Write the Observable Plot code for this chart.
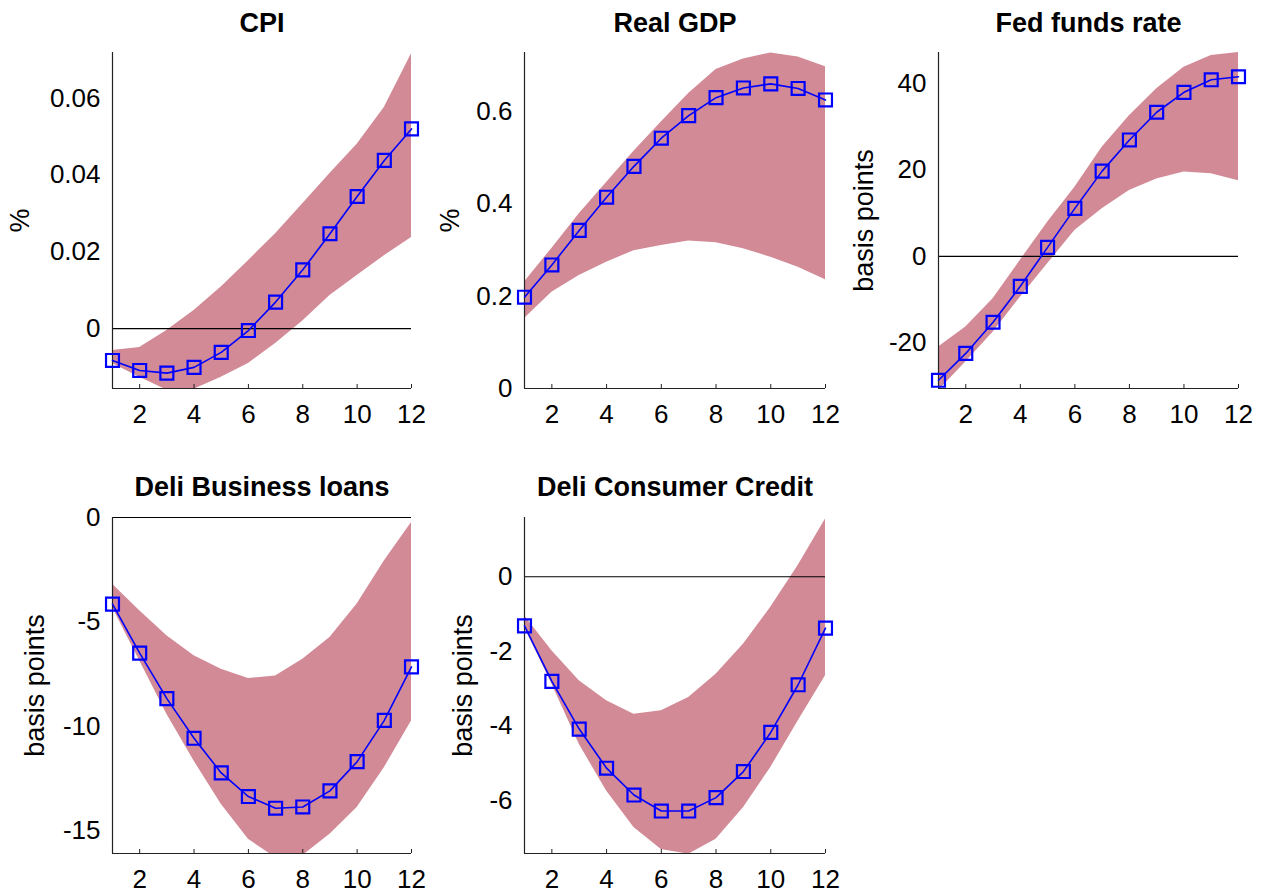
<!DOCTYPE html>
<html>
<head>
<meta charset="utf-8">
<script src="https://cdn.jsdelivr.net/npm/d3@7"></script>
<script src="https://cdn.jsdelivr.net/npm/@observablehq/plot@0.6"></script>
<style>
  html, body { margin: 0; padding: 0; background: #fff; }
  #root { position: relative; width: 1264px; height: 895px; overflow: hidden; }
  .panel { position: absolute; }
</style>
</head>
<body>
<div id="root"></div>
<script>
// ---- data ----
const horizons = [1, 2, 3, 4, 5, 6, 7, 8, 9, 10, 11, 12];
const xTicks = [2, 4, 6, 8, 10, 12];

const titles = ["CPI", "Real GDP", "Fed funds rate", "Deli Business loans", "Deli Consumer Credit"];
const yLabels = ["%", "%", "basis points", "basis points", "basis points"];

const cpiMean  = [-0.0083, -0.0109, -0.0116, -0.0101, -0.0062, -0.0005, 0.0069, 0.0153, 0.0247, 0.0344, 0.0438, 0.0520];
const cpiLower = [-0.0091, -0.0127, -0.0160, -0.0158, -0.0127, -0.0091, -0.0039, 0.0020, 0.0086, 0.0138, 0.0190, 0.0237];
const cpiUpper = [-0.0057, -0.0049, -0.0005, 0.0047, 0.0108, 0.0177, 0.0247, 0.0325, 0.0404, 0.0480, 0.0576, 0.0716];
const cpiTicks = [0, 0.02, 0.04, 0.06];
const cpiDomain = [-0.0156, 0.0719];

const gdpMean  = [0.198, 0.268, 0.343, 0.415, 0.482, 0.543, 0.592, 0.631, 0.652, 0.661, 0.651, 0.626];
const gdpLower = [0.152, 0.209, 0.245, 0.274, 0.299, 0.310, 0.320, 0.316, 0.303, 0.285, 0.263, 0.236];
const gdpUpper = [0.231, 0.304, 0.379, 0.447, 0.515, 0.578, 0.640, 0.692, 0.715, 0.728, 0.719, 0.698];
const gdpTicks = [0, 0.2, 0.4, 0.6];
const gdpDomain = [0, 0.729];

const fedMean  = [-28.6, -22.4, -15.2, -6.9, 2.1, 11.1, 19.7, 26.9, 33.3, 37.9, 40.8, 41.5];
const fedLower = [-31.0, -24.4, -17.5, -9.4, -1.7, 6.0, 11.0, 15.2, 17.9, 19.5, 19.1, 17.5];
const fedUpper = [-20.9, -16.3, -9.8, -0.9, 7.9, 16.0, 25.2, 32.5, 38.7, 43.7, 46.4, 47.1];
const fedTicks = [-20, 0, 20, 40];
const fedDomain = [-30.5, 47.1];

const busMean  = [-4.15, -6.50, -8.68, -10.58, -12.24, -13.37, -13.93, -13.87, -13.10, -11.70, -9.72, -7.16];
const busLower = [-4.31, -6.87, -9.43, -11.67, -13.74, -15.42, -16.3, -16.2, -15.18, -13.90, -11.99, -9.75];
const busUpper = [-3.20, -4.47, -5.67, -6.63, -7.27, -7.72, -7.59, -6.79, -5.75, -4.15, -2.08, -0.24];
const busTicks = [-15, -10, -5, 0];
const busDomain = [-16.1, 0];

const conMean  = [-1.32, -2.81, -4.09, -5.14, -5.86, -6.29, -6.29, -5.93, -5.23, -4.18, -2.90, -1.38];
const conLower = [-1.36, -2.88, -4.50, -5.75, -6.73, -7.32, -7.45, -7.05, -6.20, -5.12, -3.87, -2.66];
const conUpper = [-1.05, -1.99, -2.79, -3.33, -3.69, -3.60, -3.24, -2.62, -1.81, -0.82, 0.30, 1.55];
const conTicks = [-6, -4, -2, 0];
const conDomain = [-7.43, 1.59];

// ---- layout ----
const panels = [
  {mean: cpiMean, lower: cpiLower, upper: cpiUpper, ticks: cpiTicks, domain: cpiDomain,
   left: 0, top: 0, width: 430, height: 440, mL: 112, mR: 19, mT: 52, mB: 52, labelDx: -92, titleDy: -29},
  {mean: gdpMean, lower: gdpLower, upper: gdpUpper, ticks: gdpTicks, domain: gdpDomain,
   left: 420, top: 0, width: 430, height: 440, mL: 104, mR: 25, mT: 52, mB: 52, labelDx: -74, titleDy: -29},
  {mean: fedMean, lower: fedLower, upper: fedUpper, ticks: fedTicks, domain: fedDomain,
   left: 840, top: 0, width: 424, height: 440, mL: 98, mR: 26, mT: 52, mB: 52, labelDx: -74, titleDy: -29},
  {mean: busMean, lower: busLower, upper: busUpper, ticks: busTicks, domain: busDomain,
   left: 0, top: 450, width: 430, height: 445, mL: 112, mR: 19, mT: 67, mB: 42, labelDx: -77, titleDy: -30},
  {mean: conMean, lower: conLower, upper: conUpper, ticks: conTicks, domain: conDomain,
   left: 420, top: 450, width: 430, height: 445, mL: 104, mR: 25, mT: 67, mB: 42, labelDx: -61, titleDy: -30}
];

const root = document.getElementById("root");
const FONT = "'Liberation Sans', Arial, Helvetica, sans-serif";

panels.forEach((p, i) => {
  const rows = horizons.map((h, j) => ({h, mean: p.mean[j], lo: p.lower[j], hi: p.upper[j]}));
  const frameH = p.height - p.mT - p.mB;
  const chart = Plot.plot({
    width: p.width,
    height: p.height,
    marginLeft: p.mL,
    marginRight: p.mR,
    marginTop: p.mT,
    marginBottom: p.mB,
    style: {fontFamily: FONT, fontSize: "26px", color: "#000", background: "transparent", overflow: "visible"},
    x: {domain: [1, 12]},
    y: {domain: p.domain},
    marks: [
      Plot.areaY(rows, {x: "h", y1: "lo", y2: "hi", fill: "#D28A97", clip: true}),
      Plot.ruleY([0], {stroke: "#000", strokeWidth: 1.2}),
      Plot.ruleX([1], {stroke: "#222", strokeWidth: 1.2}),
      Plot.ruleY([p.domain[0]], {stroke: "#222", strokeWidth: 1.2}),
      Plot.tickX(xTicks, {x: d => d, stroke: "#222", insetTop: frameH - 4}),
      Plot.line(rows, {x: "h", y: "mean", stroke: "#0000FF", strokeWidth: 1.6}),
      Plot.dot(rows, {x: "h", y: "mean", symbol: "square", r: 7.3, stroke: "#0000FF", strokeWidth: 2.2, fill: "none"}),
      Plot.axisX({ticks: xTicks, tickSize: 0, tickPadding: 16, tickFormat: d => String(d), fontSize: 26, label: null}),
      Plot.axisY({ticks: p.ticks, tickSize: 0, tickPadding: 12, tickFormat: d => String(d), fontSize: 26, label: null}),
      Plot.text([titles[i]], {frameAnchor: "top", dy: p.titleDy, fontWeight: "bold", fontSize: 27, textAnchor: "middle", lineAnchor: "middle"}),
      Plot.text([yLabels[i]], {frameAnchor: "left", rotate: -90, dx: p.labelDx, fontSize: 27, textAnchor: "middle", lineAnchor: "middle"})
    ]
  });
  const wrap = document.createElement("div");
  wrap.className = "panel";
  wrap.style.left = p.left + "px";
  wrap.style.top = p.top + "px";
  wrap.appendChild(chart);
  root.appendChild(wrap);
});
</script>
</body>
</html>
